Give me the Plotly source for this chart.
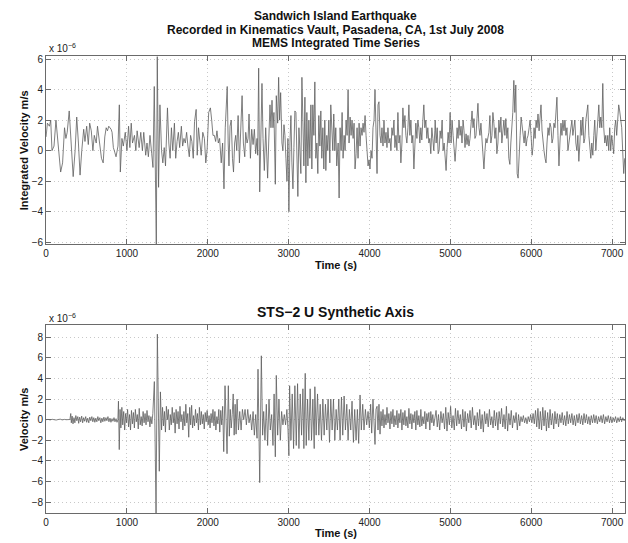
import plotly.graph_objects as go

# ---------------- MEMS integrated velocity (x 1e-6 m/s) ----------------
mems_t_a = [0,16,41,57,73,98,122,151,180,204,228,245,261,286,310,335,359,379,400,420,
            441,465,481,502,522,539,559,579,596,620,636,661,685,706,726,743,759,775,804,816,
            832,849,865,889,906,918,938,955,979,1000,1020,1036,1053,1069,1093,1110,1126,1151,1171,1191,
            1208,1232,1248,1265,1285,1306,1322,1338,1363,1375,1391,1408,1428,1444,1461,1477,1501,1518,1534,1550,
            1567,1587,1603,1620,1636,1652,1673,1689,1705,1722,1738,1754,1771,1787,1803,1820,1836,1856,1869,1885,
            1901,1918,1938,1958,1975,1991,2011,2032,2048,2064,2081,2097,2113,2130,2146,2166,2183,2200,2216,2240,
            2252,2262,2275,2290,2305,2318,2332,2345,2358]
mems_v_a = [0.9,1.8,1.6,2.0,0.0,0.3,2.0,0.5,-1.4,-0.8,1.5,0.8,1.2,2.6,0.5,-1.7,0.0,2.2,0.5,-1.6,
            0.0,1.4,0.6,1.6,0.4,1.8,1.3,0.0,1.0,0.5,1.6,0.4,-0.5,-0.8,0.9,1.5,1.3,1.6,1.4,1.2,
            0.2,-0.1,-0.4,0.3,3.0,-1.4,0.8,0.3,1.2,0.0,1.6,0.2,1.8,0.5,1.0,0.0,1.3,0.2,1.2,0.0,
            1.2,-0.3,0.5,-0.4,1.0,-0.2,-1.1,4.2,-6.13,6.17,-2.4,3.0,0.0,-0.8,0.2,-1.0,2.8,0.5,-0.5,1.5,
            0.0,1.8,-0.5,0.6,1.2,0.2,1.6,0.3,0.8,0.5,1.2,0.3,-0.4,1.0,0.6,-0.5,1.9,2.7,-0.3,1.5,
            0.5,-0.3,1.2,0.8,-0.8,0.0,2.5,2.8,2.0,1.0,1.0,0.6,1.3,0.5,0.8,-0.8,0.5,-2.5,1.5,4.2,
            0.5,-1.0,1.6,2.0,-0.5,-1.4,0.5,1.0,0.0]

mems_t_b = [2375,2391,2407,2424,2440,2457,2469,2486,2498,2510,2527,2543,2560,2576,2592,2609,2617,2629,2642,2658,
            2670,2683,2699,2716,2728,2740,2753,2769,2781,2794,2806,2818,2835,2847,2864,2876,2888,2901,2917,2929,
            2942,2954,2966,2979,2991,3003,3016,3028,3040,3053,3065,3077,3090,3102,3114,3127,3139,3151,3164,3176,
            3188,3201,3213,3225,3238,3250,3262,3275,3287,3299,3312,3324,3336,3349,3361,3373,3386,3398,3410,3423,
            3435,3447,3460,3472,3484,3497,3509,3521,3534,3546,3558,3571,3583,3595,3612,3624,3636,3649,3661,3673,
            3686,3698,3710,3723,3735,3747,3760,3772,3784,3797,3809,3821,3834,3846,3858,3871,3883,3895,3908,3920,
            3932,3945,3957,3969,3982,3994,4006,4019,4031,4043,4056,4068,4080,4093,4105,4117,4130,4142,4154,4167,
            4179,4191,4204,4216,4228,4240,4253,4265,4277,4290,4302,4314,4327,4339,4351,4364,4376,4388,4401,4413,
            4425,4438,4450,4462,4475,4487,4499,4512,4524,4536,4549,4561,4573,4586,4598,4610,4623,4635,4647,4660,
            4672,4684,4697,4709,4721,4734,4746,4758,4771,4783,4795,4808]
mems_v_b = [2.3,-0.8,1.0,3.6,0.5,-0.4,1.2,0.5,0.8,2.4,-0.5,1.4,0.4,1.4,-0.2,0.8,-0.3,5.4,-2.7,2.5,
            4.4,0.8,-1.3,1.5,-0.3,-1.8,0.5,3.0,1.5,3.3,1.5,2.5,-2.2,3.6,1.8,4.8,2.0,3.8,0.5,0.0,
            1.7,1.0,-0.5,-2.0,0.8,-4.0,0.5,2.3,-0.8,-2.5,0.2,2.6,2.5,-1.0,-3.0,1.5,0.0,-1.5,4.8,0.5,
            -1.0,3.5,-2.1,2.5,-1.0,2.0,-0.5,3.0,-1.2,3.0,1.0,4.5,-0.5,0.5,-1.5,2.3,0.3,2.6,-0.5,1.5,
            -1.2,2.0,-1.3,1.0,0.0,2.0,-0.8,3.0,1.0,0.0,2.4,0.0,1.5,-1.0,0.5,-3.1,1.5,0.0,2.5,-0.5,
            1.0,0.0,2.0,1.0,4.0,0.5,2.2,1.0,2.0,0.8,1.8,-1.2,-0.2,1.5,-0.5,1.8,0.3,1.5,1.0,1.8,
            1.2,2.3,1.0,0.0,-1.0,-0.6,-1.2,0.0,-0.5,1.5,2.0,4.0,1.0,-1.5,3.0,3.2,1.0,0.5,1.5,0.3,
            2.0,0.5,1.2,0.2,1.5,0.5,0.8,0.0,1.5,1.0,2.0,0.2,1.0,0.0,2.5,0.5,1.0,-0.8,0.5,2.8,
            1.5,2.3,1.0,0.5,1.5,3.0,1.0,2.0,0.5,1.0,-1.2,0.5,1.8,0.8,2.0,1.5,0.5,1.5,0.7,2.0,
            3.0,1.5,2.0,0.8,1.5,0.5,0.8,-0.2,1.5,0.8,0.0,1.3]

mems_t_c = [4812,4824,4837,4849,4861,4873,4886,4898,4910,4923,4935,4947,4960,4972,4984,4997,5009,5021,5034,5046,
            5058,5071,5083,5095,5107,5120,5132,5144,5157,5169,5181,5194,5206,5218,5230,5243,5255,5268,5280,5292,
            5304,5317,5329,5341,5354,5366,5378,5391,5403,5415,5428,5440,5452,5465,5477,5489,5501,5514,5526,5538,
            5551,5563,5575,5588,5600,5612,5625,5637,5649,5662,5674,5686,5699,5711,5723,5736,5748,5760,5772,5785,
            5797,5809,5818,5826,5838,5851,5863,5875,5887,5900,5912,5924,5937,5949,5961,5974,5986,5998,6011,6023,
            6035,6048,6060,6072,6084,6097,6109,6121,6134,6146,6158,6171,6183,6195,6208,6220,6232,6245,6257,6269,
            6281,6294,6306,6318,6331,6343,6355,6368,6380,6392,6405,6417,6429,6442,6454,6466,6479,6491,6503,6515,
            6528,6540,6552,6565,6577,6589,6602,6614,6626,6639,6651,6663,6676,6688,6700,6713,6725,6737,6749,6762,
            6774,6786,6799,6811,6823,6836,6848,6860,6873,6885,6897,6910,6922,6934,6947,6959,6971,6983,6996,7008,
            7020,7033,7045,7057,7070,7082,7094,7107,7119,7131,7144,7156]
mems_v_c = [2.0,0.5,1.5,-0.2,0.0,1.3,0.8,2.0,0.0,0.5,-0.5,-1.3,0.2,1.2,0.5,2.5,0.5,2.0,1.0,0.0,
            -0.7,0.3,1.5,0.8,2.0,1.0,1.6,0.5,2.0,1.3,0.2,1.1,0.4,1.0,0.3,0.8,1.5,2.6,1.5,2.1,
            0.8,1.0,2.1,3.1,1.5,1.0,1.8,0.5,-0.5,-1.2,0.0,0.8,0.5,1.0,1.2,2.3,0.5,1.0,2.5,1.8,
            0.8,1.5,-0.2,0.5,2.0,1.2,2.2,0.5,1.5,2.0,1.0,2.1,0.8,1.5,-0.5,-0.9,0.5,1.5,2.5,4.6,
            2.5,4.3,1.0,-1.5,-1.8,0.5,1.0,2.2,1.5,1.0,0.5,1.3,0.3,0.8,1.0,1.5,2.0,1.0,-0.3,0.3,
            1.5,0.8,2.0,1.5,2.4,1.3,2.5,3.0,1.3,0.5,0.0,-0.5,-0.8,0.5,1.5,1.0,1.8,1.5,0.5,0.8,
            1.8,1.5,2.6,3.5,1.0,-1.0,0.5,1.8,1.0,2.0,1.3,2.0,1.0,1.5,0.0,0.5,1.0,1.5,2.0,1.0,
            1.5,2.0,0.5,0.0,1.0,-0.7,0.5,2.0,1.0,2.2,0.5,0.8,2.0,2.5,3.0,1.0,0.0,-0.5,0.5,-0.3,
            1.0,2.0,0.0,1.0,2.5,3.0,1.5,2.2,1.5,4.4,1.5,0.5,1.0,0.3,1.0,0.0,1.5,0.0,1.0,0.5,
            -0.2,1.5,2.0,1.0,2.4,3.0,2.6,2.0,1.5,0.0,-1.5,-0.5]

# ---------------- STS-2 U synthetic velocity (x 1e-6 m/s) ----------------
sts_t_pre = [0,25,50,75,100,125,150,175,200,225,250,275,295,
             305,312,322,333,345,356,368,380,392,403,415,427,440,452,465,477,490,502,515,528,
             540,553,566,578,590,603,615,628,640,652,665,677,690,702,715,727,740,752,765,777,
             790,802,815,827,840,852,865,877,888]
sts_v_pre = [0.0,0.03,-0.02,0.04,0.0,-0.03,0.02,0.05,-0.02,0.03,0.0,-0.03,0.02,
             0.6,-0.3,0.35,-0.4,0.2,-0.3,0.4,-0.1,0.3,-0.35,0.25,-0.2,0.35,-0.3,0.2,-0.15,0.3,-0.25,0.15,-0.3,
             0.25,-0.1,0.3,-0.2,0.2,-0.25,0.15,-0.2,0.3,-0.1,0.2,-0.3,0.15,-0.2,0.25,-0.15,0.2,-0.1,0.3,-0.2,
             0.15,-0.25,0.1,-0.15,0.2,-0.2,0.1,-0.25,0.0]

sts_t_p = [895,905,915,925,937,948,960,972,984,996,1008,1020,1032,1044,1056,1068,1080,1092,1104,1116,
           1128,1140,1152,1164,1176,1188,1200,1212,1224,1236,1248,1260,1272,1284,1296,1308,1320,
           1339,1350,1360,1376,1400,1414,
           1428,1440,1452,1464,1476,1488,1500,1512,1524,1536,1548,1560,1572,1584,1596,1608,1620,1632,1644,1656,
           1668,1680,1692,1704,1716,1728,1740,1752,1764,1776,1788,1800,1812,1824,1836,1848,1860,1872,1884,1896,
           1908,1920,1932,1944,1956,1968,1980,1992,2004,2016,2028,2040,2052,2064,2076,2088,2100,2112,2124,2136,
           2148,2160,2172,2184]
sts_v_p = [1.8,-2.9,1.0,-0.8,1.2,-0.5,0.8,-1.0,0.6,-0.3,1.0,-0.7,0.5,-1.0,0.9,-0.4,0.7,-0.8,1.0,-0.2,
           0.5,-0.9,1.1,-0.5,0.3,-0.6,0.8,-0.3,0.6,-0.5,0.9,-0.2,0.4,-0.7,0.3,-0.4,0.6,
           3.7,-1.5,-9.08,8.3,-5.0,2.7,
           -1.0,1.2,-0.6,0.8,-1.2,1.3,0.0,1.0,-1.0,0.5,-0.5,1.2,-0.3,0.7,-1.3,1.0,-0.4,0.8,-0.9,1.3,
           -0.2,0.5,-1.0,0.8,-0.6,1.5,-0.3,0.6,-1.7,1.2,-0.5,1.4,-0.8,0.4,-0.6,1.0,-0.3,0.6,-1.0,1.2,
           -0.5,0.8,-0.4,0.5,-0.9,0.7,-0.2,0.9,-0.5,0.4,-0.8,0.6,-0.3,1.0,-0.6,0.8,-1.0,0.3,-0.4,1.0,
           -1.2,0.9,-0.5,1.3]

sts_t_s = [2197,2213,2226,2238,2254,2266,2278,2290,2302,2314,2326,2338,2350,
           2362,2379,2395,2412,2428,2444,2461,2477,2494,2510,2527,2543,2560,2576,2592,2609,
           2621,2642,2662,2678,2691,2707,2724,2740,2757,2773,2790,2806,2820,2835,2847,2864,2880,2897,2913,2929,
           2946,2962,2978,2992,
           3003,3012,3028,3044,3061,3077,3094,3110,3127,3143,3160,3176,3188,3205,3217,3234,3250,3266,3283,3299,
           3316,3324,3340,3357,3373,3390,3406,3423,3439,3455,3472,3488,3505,3521,3538,3554,3571,3587,3603,3620,
           3636,3653,3669,3686,3702,3719,3735,3751,3768,3784,3801,3817,3834,3850,3866,3883,3899,3916,3932,3949,
           3965,3982,3998,4014,4027,4043,4056,4068,4080]
sts_v_s = [-3.1,3.3,-0.5,-3.3,3.3,-1.6,1.0,-0.8,0.5,2.5,-1.5,1.5,-1.4,
           2.0,-1.0,0.8,-1.0,1.0,0.0,1.0,-0.5,1.0,-0.3,0.5,-1.0,0.8,-1.5,0.5,-1.8,
           4.9,-6.1,6.2,-1.5,0.8,-2.0,1.5,-2.5,2.0,-1.0,0.5,-2.5,2.5,-3.6,4.3,-1.5,2.0,-2.0,0.8,-0.5,
           0.5,-0.5,1.0,-1.0,
           -3.5,3.3,-2.0,2.5,-2.8,3.3,-2.5,3.5,-2.8,2.5,-1.5,3.0,-2.8,4.5,-2.5,2.0,-2.0,3.0,-2.0,2.0,
           -2.8,3.2,-1.5,2.5,-1.5,1.5,-2.0,2.0,-1.5,1.5,-1.0,2.0,-2.2,2.0,-1.0,2.0,-2.0,1.0,-1.0,2.0,
           -2.0,2.2,-1.5,2.3,-1.0,1.5,-2.0,1.0,-1.0,1.8,-2.2,1.0,-2.0,1.0,-2.3,2.4,-1.0,1.5,-1.0,1.0,
           -0.5,0.8,-0.8,1.5,-1.3,2.0,-0.5,-2.4,1.0]

sts_t_coda = [4093,4105,4117,4130,4142,4154,4167,4179,4191,4204,4216,4228,4240,4253,4265,4277,4290,4302,4314,4327,
              4339,4351,4364,4376,4388,4401,4413,4425,4438,4450,4462,4475,4487,4499,4512,4524,4536,4549,4561,4573,
              4586,4598,4610,4623,4635,4647,4660,4672,4684,4697,4709,4721,4734,4746,4758,4771,4783,4795,4808,
              4823,4838,4853,4868,4883,4898,4913,4928,4943,4958,4973,4988,5003,5018,5033,5048,5063,5078,5093,5108,
              5123,5138,5153,5168,5183,5198,5213,5228,5243,5258,5273,5288,5303,5318,5333,5348,5363,5378,5393,5408,
              5423,5438,5453,5468,5483,5498,5513,5528,5543,5558,5573,5588,5603,5618,5633,5648,5663,5678,5693,5708,
              5723,5738,5753,5768,5783,5798,5813,5828,5843,5858,5873,5888,5903,5918,5933,5948,5963,5978,5993,6008,
              6023,6038,6053,6068,6083,6098,6113,6128,6143,6158,6173,6188,6203,6218,6233,6248,6263,6278,6293,6308,
              6323,6338,6353,6368,6383,6398,6413,6428,6443,6458,6473,6488,6503,6518,6533,6548,6563,6578,6593,6608,
              6623,6638,6653,6668,6683,6698,6713,6728,6743,6758,6773,6788,6803,6818,6833,6848,6863,6878,6893,6908,
              6923,6938,6953,6968,6983,6998,7013,7028,7043,7058,7073,7088,7103,7118,7133,7148,7160]
sts_v_coda = [1.3,-1.0,1.5,-1.4,0.8,-0.6,1.0,-0.8,0.5,-0.5,1.2,-0.3,0.6,-0.9,0.8,-0.4,1.0,-0.7,0.4,-0.5,
              0.9,-0.8,0.6,-0.3,1.0,-1.0,0.7,-0.5,0.9,-0.6,0.3,-0.8,1.1,-0.4,0.6,-0.9,0.5,-0.3,0.8,-1.0,
              0.9,-0.5,0.4,-0.7,1.0,-0.6,0.3,-0.4,0.8,-0.9,0.6,-0.2,0.7,-1.0,0.8,-0.3,0.5,-0.6,0.4,
              0.9,-0.7,0.5,-1.0,0.8,-0.3,0.6,-0.9,1.2,-1.1,0.7,-0.5,1.3,-0.8,0.4,-1.0,1.1,-0.6,0.9,-0.4,
              0.5,-0.9,1.0,-0.7,0.8,-1.1,0.6,-0.3,0.9,-0.8,1.2,-0.5,0.4,-1.0,0.7,-0.6,1.0,-0.9,0.5,-1.2,
              0.8,-0.4,0.6,-0.7,1.0,-0.5,0.3,-0.8,0.9,-0.6,0.7,-1.0,0.8,-0.4,1.1,-0.7,0.5,-0.9,1.3,-1.1,
              0.6,-0.5,0.9,-0.8,0.4,-0.3,0.7,-1.0,0.5,-0.6,0.3,-0.2,0.4,-0.3,0.2,-0.4,0.3,-0.2,0.5,-0.3,
              0.6,-0.4,0.9,-0.7,1.1,-0.9,0.8,-1.0,1.2,-0.6,0.9,-1.1,0.7,-0.8,1.0,-0.5,0.6,-0.9,0.8,-0.4,
              0.6,-0.7,0.5,-0.3,0.7,-0.5,0.4,-0.6,0.8,-0.4,0.5,-0.3,0.6,-0.5,0.4,-0.6,0.5,-0.3,0.6,-0.4,
              0.4,-0.5,0.6,-0.3,0.5,-0.4,0.3,-0.5,0.4,-0.3,0.5,-0.3,0.4,-0.4,0.3,-0.2,0.4,-0.3,0.5,-0.4,
              0.3,-0.2,0.4,-0.3,0.3,-0.3,0.2,-0.2,0.3,-0.3,0.2,-0.2,0.3,-0.2,0.2,-0.1,0.0]

x_ticks = [0, 1000, 2000, 3000, 4000, 5000, 6000, 7000]
mems_y_ticks = [-6, -4, -2, 0, 2, 4, 6]
sts_y_ticks = [-8, -6, -4, -2, 0, 2, 4, 6, 8]

pairs = [(mems_t_a, mems_v_a), (mems_t_b, mems_v_b), (mems_t_c, mems_v_c),
         (sts_t_pre, sts_v_pre), (sts_t_p, sts_v_p), (sts_t_s, sts_v_s), (sts_t_coda, sts_v_coda)]
for a, b in pairs:
    assert len(a) == len(b), (len(a), len(b), a[0])

mems_t = mems_t_a + mems_t_b + mems_t_c
mems_v = mems_v_a + mems_v_b + mems_v_c
sts_t = sts_t_pre + sts_t_p + sts_t_s + sts_t_coda
sts_v = sts_v_pre + sts_v_p + sts_v_s + sts_v_coda

W, H = 628, 543
FONT = "Liberation Sans, Arial, Helvetica, sans-serif"
LINE = "#5e5e5e"
GRID = "#c8c8c8"
AXC = "#6a6a6a"

def px_x(p):
    return p / W

def px_y(p):
    return 1 - p / H

fig = go.Figure()
fig.add_trace(go.Scatter(x=mems_t, y=mems_v, mode="lines",
                         line=dict(color=LINE, width=0.8), xaxis="x", yaxis="y",
                         showlegend=False, hoverinfo="skip"))
fig.add_trace(go.Scatter(x=sts_t, y=sts_v, mode="lines",
                         line=dict(color=LINE, width=0.8), xaxis="x2", yaxis="y2",
                         showlegend=False, hoverinfo="skip"))

xdom = [px_x(43.3), px_x(625)]
common_x = dict(range=[0, 7160], tickvals=x_ticks, ticks="inside", ticklen=5, tickcolor=AXC,
                showline=True, linecolor=AXC, linewidth=1, mirror="ticks",
                showgrid=True, gridcolor=GRID, griddash="1px,3px", gridwidth=1,
                zeroline=False, tickfont=dict(family=FONT, size=10, color="#222"),
                domain=xdom, fixedrange=True)
common_y = dict(ticks="inside", ticklen=5, tickcolor=AXC,
                showline=True, linecolor=AXC, linewidth=1, mirror="ticks",
                showgrid=True, gridcolor=GRID, griddash="1px,3px", gridwidth=1,
                zeroline=False, tickfont=dict(family=FONT, size=10, color="#222"),
                fixedrange=True)

fig.update_layout(
    width=W, height=H,
    margin=dict(l=0, r=0, t=0, b=0),
    paper_bgcolor="white", plot_bgcolor="white",
    font=dict(family=FONT, size=10, color="#111"),
    xaxis=dict(common_x, anchor="y"),
    yaxis=dict(common_y, domain=[px_y(244), px_y(54)], range=[-6.13, 6.17],
               tickvals=mems_y_ticks, anchor="x"),
    xaxis2=dict(common_x, anchor="y2"),
    yaxis2=dict(common_y, domain=[px_y(516), px_y(325.7)], range=[-9.08, 9.18],
                tickvals=sts_y_ticks, anchor="x2"),
)

cx = (43.3 + 625) / 2 / W
ann = [
    dict(text="<b>Sandwich Island Earthquake</b>", x=cx, y=px_y(13), size=12),
    dict(text="<b>Recorded in Kinematics Vault, Pasadena, CA, 1st July 2008</b>", x=cx, y=px_y(27), size=12),
    dict(text="<b>MEMS Integrated Time Series</b>", x=cx, y=px_y(40.5), size=12),
    dict(text="<b>STS\u22122 U Synthetic Axis</b>", x=cx, y=px_y(312.5), size=14),
    dict(text="<b>Time (s)</b>", x=cx, y=px_y(265), size=11),
    dict(text="<b>Time (s)</b>", x=cx, y=px_y(536), size=11),
]
for a in ann:
    fig.add_annotation(text=a["text"], x=a["x"], y=a["y"], xref="paper", yref="paper",
                       xanchor="center", yanchor="middle", showarrow=False,
                       font=dict(family=FONT, size=a["size"], color="#111"))

for txt, yc in [("<b>Integrated Velocity m/s</b>", (54 + 244) / 2), ("<b>Velocity m/s</b>", (325.7 + 516) / 2)]:
    fig.add_annotation(text=txt, x=px_x(21), y=px_y(yc), xref="paper", yref="paper",
                       xanchor="center", yanchor="middle", textangle=-90, showarrow=False,
                       font=dict(family=FONT, size=11, color="#111"))

for yc in [46, 319]:
    fig.add_annotation(text="x 10<sup>\u22126</sup>", x=px_x(44), y=px_y(yc), xref="paper", yref="paper",
                       xanchor="left", yanchor="middle", showarrow=False,
                       font=dict(family=FONT, size=10, color="#222"))

fig.write_html("out.html", config={"displayModeBar": False},
               post_script="document.body.style.margin='0';document.body.style.padding='0';")
